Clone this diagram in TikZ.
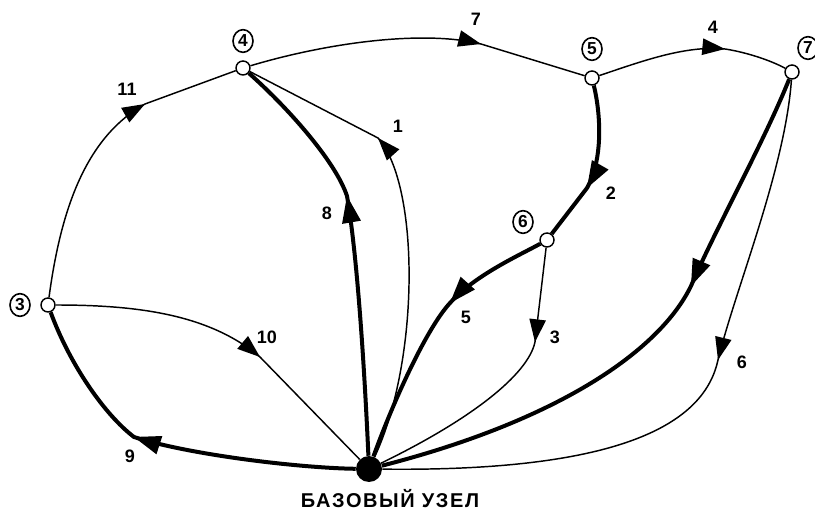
\documentclass[tikz,border=0pt]{standalone}
\usepackage{fontspec}
\setmainfont{Liberation Sans}
\usetikzlibrary{calc,shapes.geometric}
\pgfdeclarelayer{bg}
\pgfsetlayers{bg,main}
\tikzset{
  vtx/.style={circle, draw, fill=white, line width=1.1pt, minimum size=10.5pt, inner sep=0pt},
  basenode/.style={circle, fill=black, minimum size=19.5pt, inner sep=0pt},
  circnum/.style={ellipse, draw, line width=1.2pt, minimum width=15pt, minimum height=17pt, inner sep=0pt, font=\fontsize{13}{13}\selectfont\bfseries},
  elab/.style={font=\fontsize{13.5}{13.5}\selectfont\bfseries, inner sep=0pt},
  thinedge/.style={line width=1.1pt},
  thickedge/.style={line width=3pt}
}
% arrowhead: tip, point behind, length, half width
\newcommand\arrhd[4]{%
  \coordinate (ahB) at ($(#1)!#3!(#2)$);
  \fill (#1) -- ($(ahB)!#4!90:(#1)$) -- ($(ahB)!#4!-90:(#1)$) -- cycle;}
\newcommand\thinhd[2]{\arrhd{#1}{#2}{17pt}{6.3pt}}
\newcommand\thickhd[2]{\arrhd{#1}{#2}{20pt}{7.2pt}}
\begin{document}
\begin{tikzpicture}[x=0.75pt,y=-0.75pt]
\useasboundingbox (0,0) rectangle (815,513);
% vertices
\node[vtx] (n3) at (48,305) {};
\node[vtx] (n4) at (243,68) {};
\node[vtx] (n5) at (592,78) {};
\node[vtx] (n6) at (547,240) {};
\node[vtx] (n7) at (792,72) {};
\node[basenode] (b) at (369,469) {};
\node[font=\fontsize{15}{15}\selectfont\bfseries\addfontfeature{LetterSpace=8}] (bl) at (390,499) {БАЗОВЫЙ УЗЕЛ};
% circled numbers
\node[circnum] (l3) at (20,305) {3};
\node[circnum] (l4) at (243,41) {4};
\node[circnum] (l5) at (592,49) {5};
\node[circnum] (l6) at (523,222) {6};
\node[circnum] (l7) at (808,48) {7};
% arrow tip points
\coordinate (t1) at (378,138);
\coordinate (t2) at (587,188);
\coordinate (t3) at (535,342);
\coordinate (t4) at (725,49);
\coordinate (t5) at (450,303);
\coordinate (t6) at (718,360);
\coordinate (t7) at (481,44);
\coordinate (t8) at (347,196);
\coordinate (t9) at (134,437);
\coordinate (t10) at (260,357);
\coordinate (t11) at (145,104);
\coordinate (t12) at (691,286);
% points behind the tips
\coordinate (c1) at (420,185);
\coordinate (c2) at (603,160);
\coordinate (c4) at (685,45);
\coordinate (c5) at (475,275);
\coordinate (c6) at (735,290);
\coordinate (c7) at (425,30);
\coordinate (c8) at (358,260);
\coordinate (c9) at (190,455);
\coordinate (c10) at (210,315);
\coordinate (c11) at (90,135);
\coordinate (c12) at (715,230);
\begin{pgfonlayer}{bg}
% 1: base -> 4
\draw[thinedge] (b) .. controls (420,360) and (c1) .. (t1) -- (n4);
\thinhd{t1}{c1}
% 2: 5 -> 6
\draw[thickedge] (n5) .. controls (601,115) and (c2) .. (t2) -- (n6);
\thickhd{t2}{c2}
% 3: 6 -> base
\draw[thinedge] (n6) -- (t3) .. controls (528,375) and (470,420) .. (b);
\thinhd{t3}{n6}
% 4: 5 -> 7
\draw[thinedge] (n5) .. controls (640,62) and (c4) .. (t4) .. controls (745,52) and (770,60) .. (n7);
\thinhd{t4}{c4}
% 5: 6 -> base
\draw[thickedge] (n6) .. controls (520,255) and (c5) .. (t5) .. controls (425,330) and (390,410) .. (b);
\thickhd{t5}{c5}
% 6: 7 -> base
\draw[thinedge] (n7) .. controls (785,170) and (c6) .. (t6) .. controls (705,420) and (630,472) .. (b);
\thinhd{t6}{c6}
% 7: 4 -> 5
\draw[thinedge] (n4) .. controls (330,42) and (c7) .. (t7) -- (n5);
\thinhd{t7}{c7}
% 8: base -> 4
\draw[thickedge] (b) .. controls (365,380) and (c8) .. (t8) .. controls (335,160) and (285,105) .. (n4);
\thickhd{t8}{c8}
% 9: base -> 3
\draw[thickedge] (b) .. controls (300,468) and (c9) .. (t9) .. controls (105,415) and (70,365) .. (n3);
\thickhd{t9}{c9}
% 10: 3 -> base
\draw[thinedge] (n3) .. controls (140,305) and (c10) .. (t10) -- (b);
\thinhd{t10}{c10}
% 11: 3 -> 4
\draw[thinedge] (n3) .. controls (62,200) and (c11) .. (t11) -- (n4);
\thinhd{t11}{c11}
% unlabeled: 7 -> base
\draw[thickedge] (n7) .. controls (765,140) and (c12) .. (t12) .. controls (660,350) and (560,420) .. (b);
\thickhd{t12}{c12}
\end{pgfonlayer}
% edge labels
\node[elab] (e1) at (398,126) {1};
\node[elab] (e2) at (611,193) {2};
\node[elab] (e3) at (555,337) {3};
\node[elab] (e4) at (713,27) {4};
\node[elab] (e5) at (466,317) {5};
\node[elab] (e6) at (742,362) {6};
\node[elab] (e7) at (476,19) {7};
\node[elab] (e8) at (327,213) {8};
\node[elab] (e9) at (130,456) {9};
\node[elab] (e10) at (267,337) {10};
\node[elab] (e11) at (127,89) {11};
\end{tikzpicture}
\end{document}
